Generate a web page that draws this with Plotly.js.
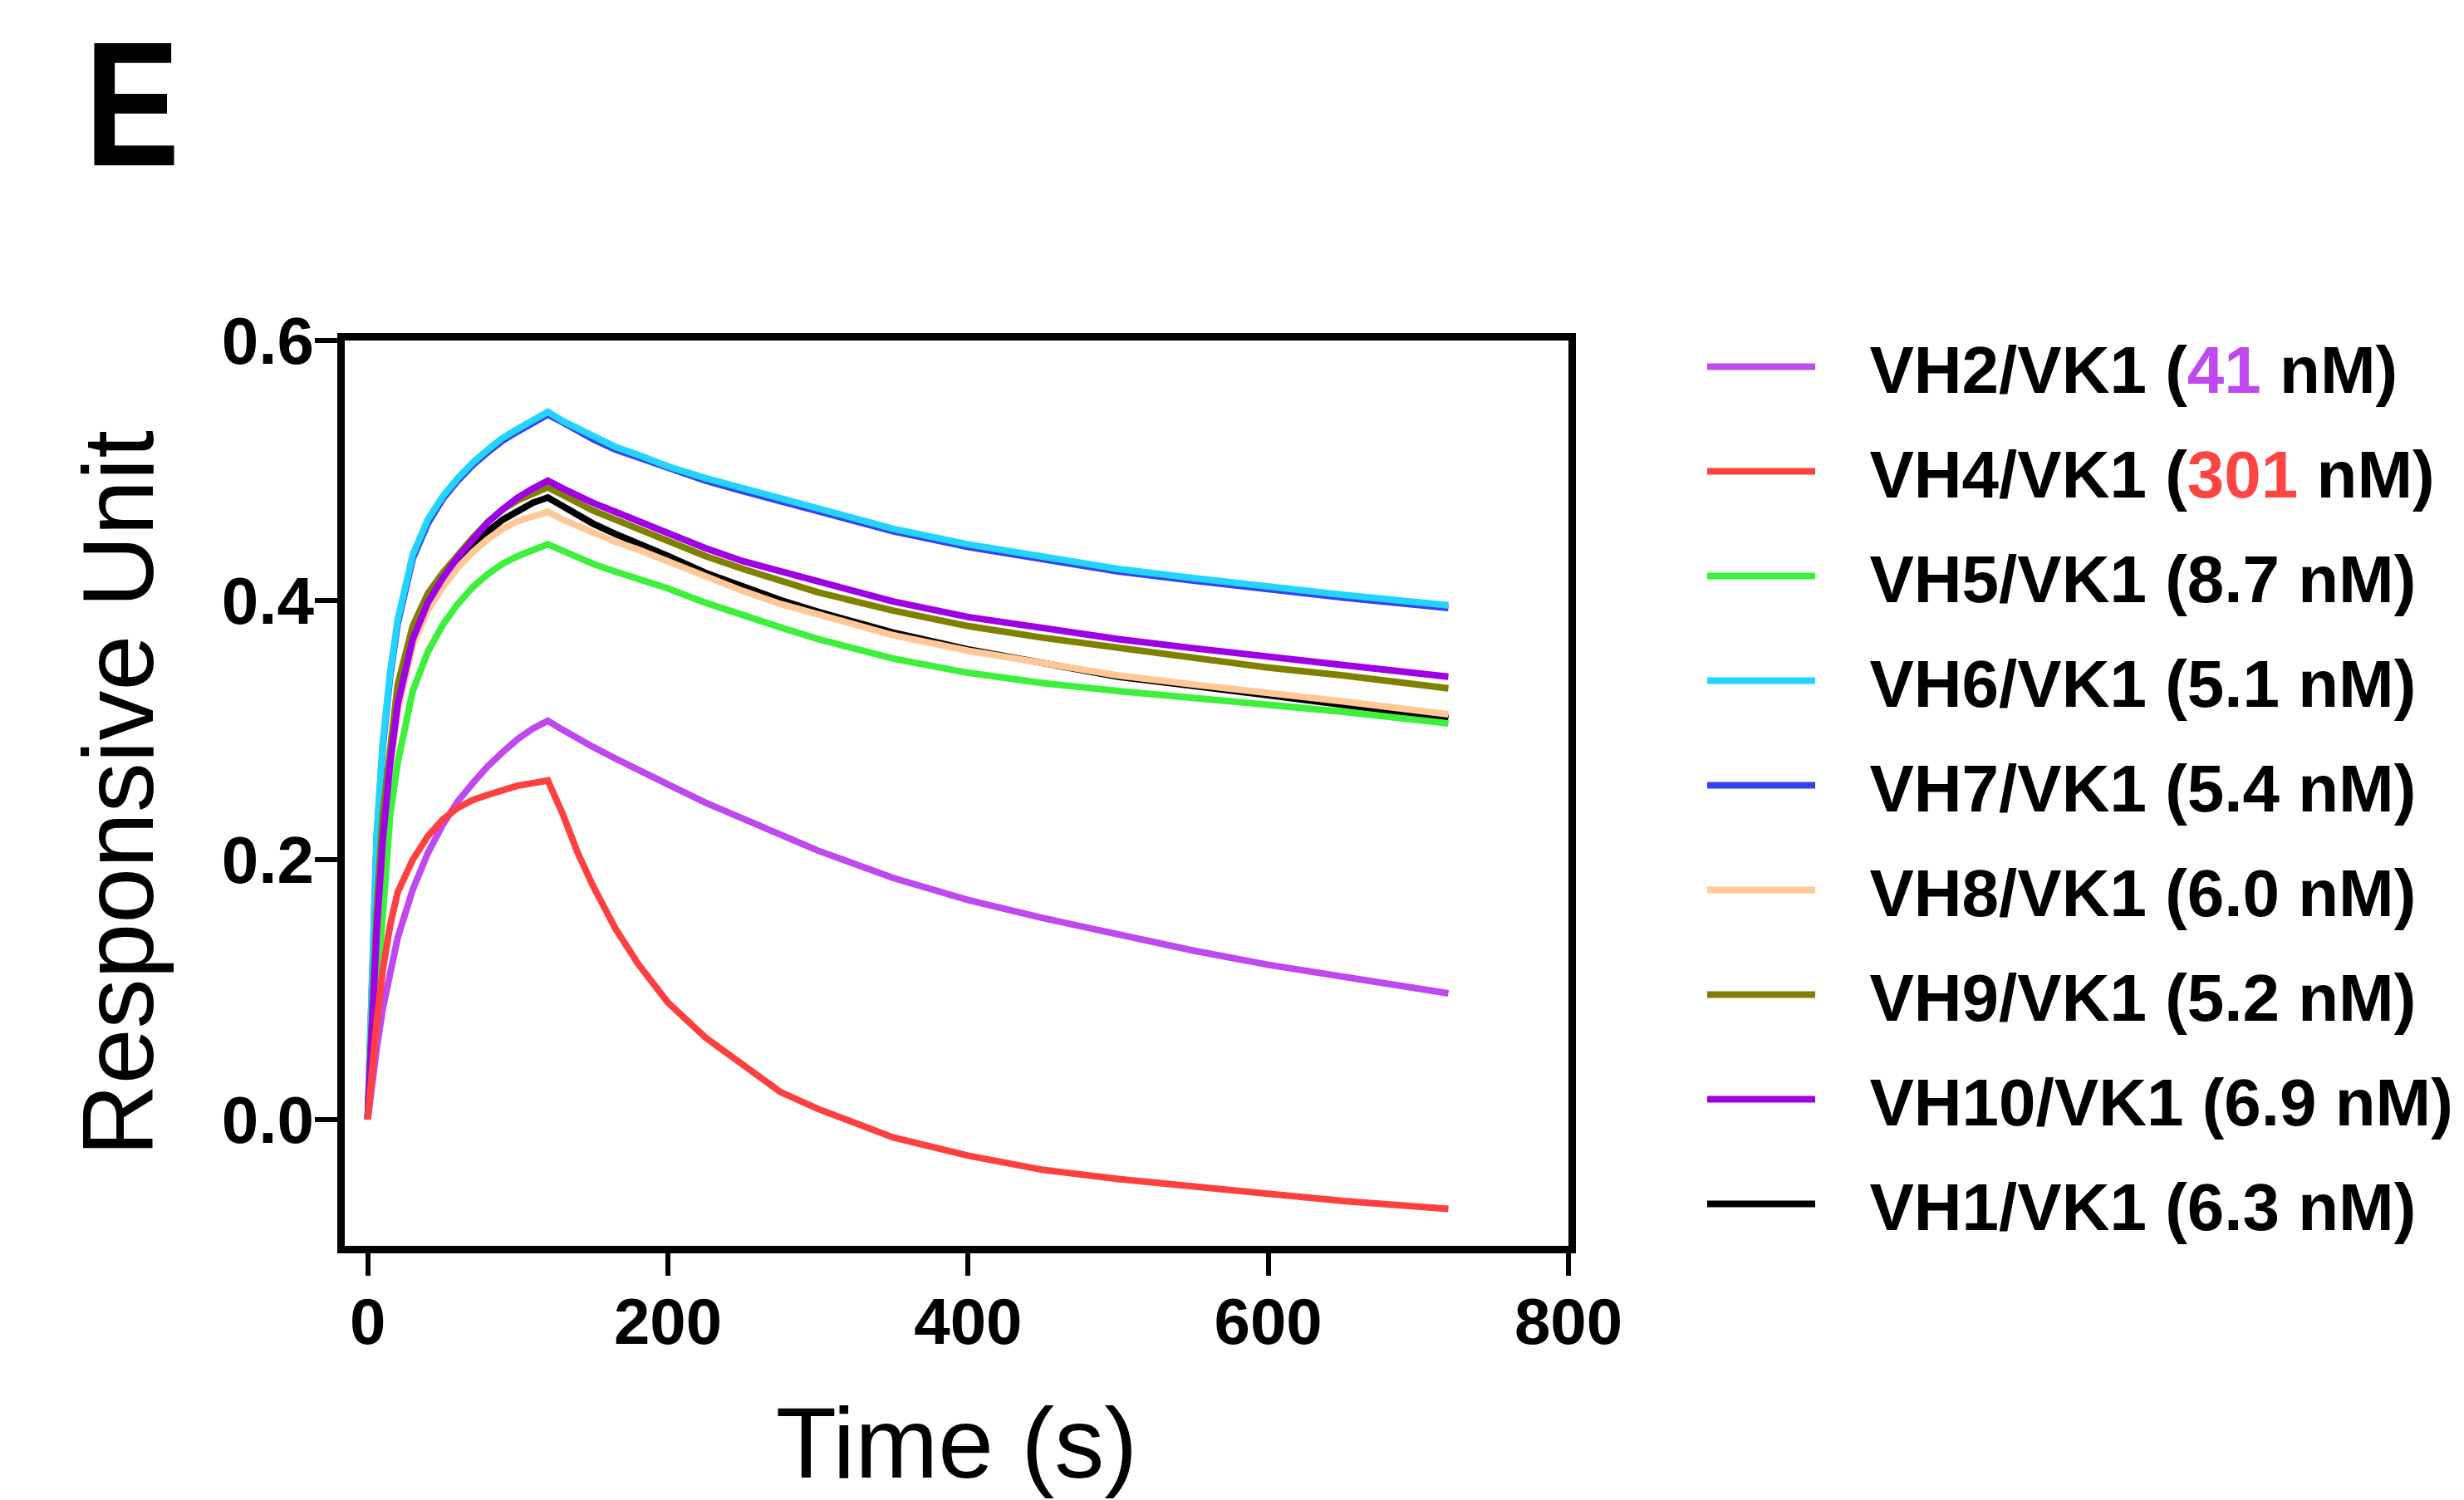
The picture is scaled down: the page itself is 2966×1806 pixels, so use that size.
<!DOCTYPE html>
<html>
<head>
<meta charset="utf-8">
<script src="https://cdn.plot.ly/plotly-3.0.1.min.js"></script>
<style>
  html, body { margin: 0; padding: 0; background: #fff; }
  #chart { width: 2966px; height: 1806px; }
</style>
</head>
<body>
<div id="chart"></div>
<script>
// Time points (s)
const time = [0,3,6,10,15,20,30,40,50,60,70,80,90,100,110,120,
              130,140,150,165,180,200,225,250,275,300,350,400,450,500,550,600,650,720];

// Response values
const vh2  = [0,0.03,0.055,0.085,0.115,0.14,0.177,0.205,0.227,0.245,0.259,0.272,0.283,0.293,0.301,0.307,
              0.300,0.293,0.287,0.278,0.270,0.258,0.244,0.232,0.219,0.207,0.186,0.169,0.155,0.142,0.130,0.119,0.110,0.097];
const vh4  = [0,0.04,0.075,0.115,0.15,0.175,0.2,0.218,0.231,0.24,0.246,0.25,0.254,0.257,0.259,0.261,
              0.235,0.205,0.18,0.147,0.12,0.09,0.063,0.042,0.021,0.008,-0.014,-0.028,-0.039,-0.046,-0.052,-0.058,-0.063,-0.069];
const vh5  = [0,0.05,0.1,0.17,0.235,0.275,0.33,0.36,0.381,0.397,0.41,0.42,0.428,0.434,0.439,0.443,
              0.438,0.433,0.428,0.422,0.417,0.409,0.398,0.388,0.379,0.370,0.355,0.344,0.336,0.330,0.325,0.320,0.314,0.305];
const vh6  = [0,0.12,0.22,0.29,0.345,0.385,0.435,0.462,0.48,0.494,0.506,0.516,0.525,0.532,0.539,0.545,
              0.538,0.532,0.526,0.518,0.512,0.503,0.494,0.486,0.478,0.470,0.455,0.443,0.433,0.424,0.417,0.410,0.404,0.396];
const vh7  = [0,0.118,0.217,0.287,0.342,0.382,0.432,0.459,0.478,0.492,0.504,0.514,0.523,0.530,0.537,0.543,
              0.537,0.530,0.524,0.516,0.510,0.501,0.492,0.484,0.476,0.468,0.453,0.441,0.431,0.422,0.415,0.408,0.402,0.394];
const vh8  = [0,0.08,0.145,0.21,0.27,0.315,0.365,0.392,0.41,0.425,0.437,0.447,0.455,0.461,0.465,0.468,
              0.462,0.457,0.452,0.445,0.439,0.430,0.418,0.407,0.397,0.389,0.373,0.361,0.351,0.342,0.335,0.329,0.322,0.312];
const vh9  = [0,0.09,0.16,0.235,0.29,0.335,0.38,0.405,0.421,0.435,0.448,0.46,0.47,0.477,0.482,0.487,
              0.481,0.475,0.469,0.462,0.455,0.446,0.434,0.424,0.415,0.406,0.392,0.380,0.371,0.363,0.355,0.348,0.342,0.332];
const vh10 = [0,0.08,0.145,0.215,0.275,0.32,0.37,0.398,0.417,0.433,0.447,0.46,0.47,0.479,0.486,0.492,
              0.486,0.480,0.475,0.468,0.461,0.452,0.440,0.430,0.422,0.414,0.399,0.387,0.378,0.370,0.363,0.356,0.350,0.341];
const vh1  = [0,0.085,0.15,0.22,0.28,0.32,0.37,0.397,0.415,0.43,0.442,0.453,0.462,0.469,0.475,0.479,
              0.472,0.465,0.459,0.451,0.444,0.434,0.421,0.410,0.400,0.391,0.375,0.362,0.351,0.341,0.334,0.327,0.319,0.309];

// Tick values
const xTicks = [0,200,400,600,800];
const yTicks = [0.0,0.2,0.4,0.6];

const FONT = 'Liberation Sans, Arial, Helvetica, sans-serif';
const GAP = '\u00a0\u00a0\u2009';

// series: [name, data, color, legend rank]; listed in drawing order
const series = [
  ['VH7/VK1 (5.4 nM)', vh7, '#3344EE', 5],
  ['VH6/VK1 (5.1 nM)', vh6, '#22D4FF', 4],
  ['VH1/VK1 (6.3 nM)', vh1, '#000000', 9],
  ['VH8/VK1 (6.0 nM)', vh8, '#FFC896', 6],
  ['VH5/VK1 (8.7 nM)', vh5, '#3CF03C', 3],
  ['VH9/VK1 (5.2 nM)', vh9, '#808000', 7],
  ['VH10/VK1 (6.9 nM)', vh10, '#A000E6', 8],
  ['VH2/VK1 (<span style="color:#BF48EE">41</span> nM)', vh2, '#BF48EE', 1],
  ['VH4/VK1 (<span style="color:#FF4444">301</span> nM)', vh4, '#FF4040', 2]
];

const traces = series.map(s => ({
  type: 'scatter',
  mode: 'lines',
  x: time,
  y: s[1],
  name: GAP + s[0],
  legendrank: s[3],
  legendgroup: 'g' + s[3],
  line: { color: s[2], width: 8 },
  hoverinfo: 'skip'
}));

const layout = {
  width: 2966,
  height: 1806,
  paper_bgcolor: '#ffffff',
  plot_bgcolor: '#ffffff',
  margin: { l: 415, r: 1078, t: 410, b: 306 },
  showlegend: true,
  font: { family: FONT, color: '#000' },
  xaxis: {
    range: [-15.3, 800],
    tickvals: xTicks,
    ticktext: xTicks.map(v => String(v)),
    ticks: 'outside',
    ticklen: 27,
    tickwidth: 6,
    tickcolor: '#000',
    showline: true,
    linewidth: 9,
    linecolor: '#000',
    mirror: true,
    showgrid: false,
    zeroline: false,
    ticklabelstandoff: -12,
    tickfont: { family: FONT, size: 78, weight: 'bold', color: '#000' },
    title: { text: 'Time (s)', font: { family: FONT, size: 120, color: '#000' }, standoff: 65 }
  },
  yaxis: {
    range: [-0.0975, 0.6],
    tickvals: yTicks,
    ticktext: yTicks.map(v => v.toFixed(1)),
    ticks: 'outside',
    ticklen: 27,
    tickwidth: 6,
    tickcolor: '#000',
    showline: true,
    linewidth: 9,
    linecolor: '#000',
    mirror: true,
    showgrid: false,
    zeroline: false,
    ticklabelstandoff: -15,
    tickfont: { family: FONT, size: 80, weight: 'bold', color: '#000' },
    title: { text: 'Responsive Unit', font: { family: FONT, size: 120, color: '#000' }, standoff: 45 }
  },
  legend: {
    xref: 'container', yref: 'container',
    x: 2050 / 2966, y: 1 - 383 / 1806,
    xanchor: 'left', yanchor: 'top',
    maxheight: 1800,
    font: { family: FONT, size: 80, weight: 'bold', color: '#000' },
    itemwidth: 130,
    traceorder: 'grouped',
    tracegroupgap: 19,
    bgcolor: 'rgba(0,0,0,0)',
    borderwidth: 0
  },
  annotations: [{
    text: '<b>E</b>',
    xref: 'paper', yref: 'paper',
    x: -0.2139, y: (1500 - 3) / 1090,
    xanchor: 'left', yanchor: 'top',
    showarrow: false,
    font: { family: FONT, size: 214, color: '#000' }
  }]
};

Plotly.newPlot('chart', traces, layout, { displayModeBar: false, staticPlot: true }).then(() => {
  // narrow the panel letter to match the condensed face of the original
  document.querySelectorAll('.annotation-text').forEach(t => {
    t.style.transformBox = 'fill-box';
    t.style.transformOrigin = 'left center';
    t.style.transform = 'scaleX(0.8)';
  });
});
</script>
</body>
</html>
